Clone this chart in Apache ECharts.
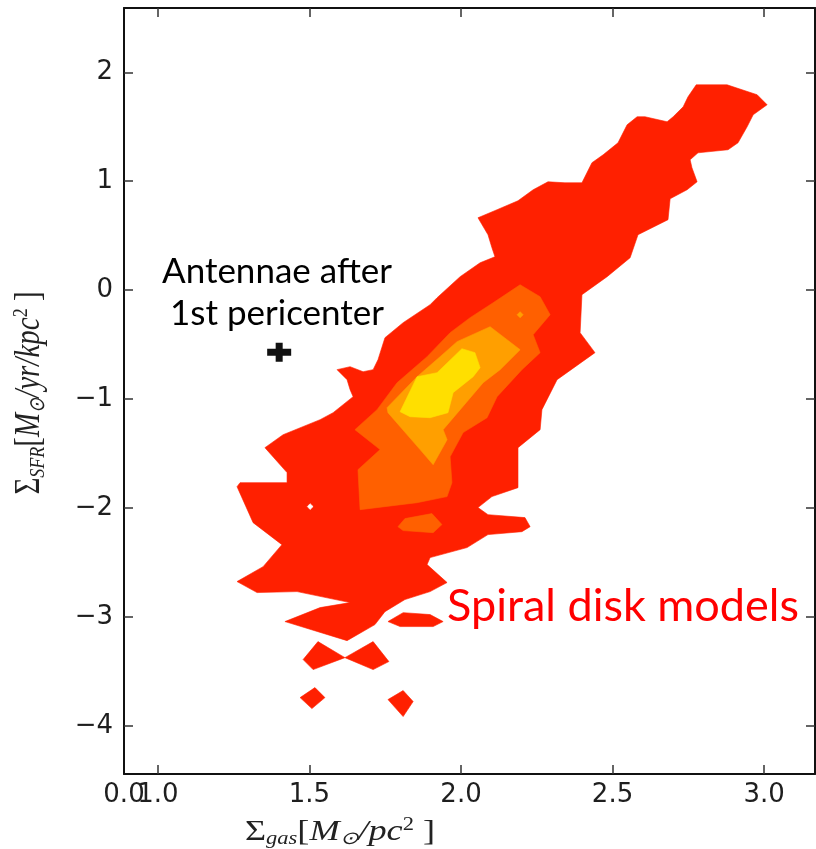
<!DOCTYPE html>
<html><head><meta charset="utf-8">
<script src="https://cdn.jsdelivr.net/npm/echarts@6/dist/echarts.min.js"></script>
<style>html,body{margin:0;padding:0;background:#fff}#c{width:816px;height:849px}</style>
</head><body><div id="c"></div>
<script>
// ---- axis ranges and ticks ----
const xRange = [0.888, 3.168];
const yRange = [-4.44, 2.59];
const xTicks = [1.0, 1.5, 2.0, 2.5, 3.0];
const yTicks = [-4, -3, -2, -1, 0, 1, 2];
const xEdgeLabel = '0.0';
const levelColors = ['#ff2000', '#ff6000', '#ff9f00', '#ffdf00'];

// ---- contour level 1 (lowest density, red) polygons [x, y] ----
const redMain = [[2.776,1.885],[2.878,1.885],[2.977,1.794],[3.010,1.702],[2.964,1.610],[2.944,1.500],[2.914,1.353],[2.881,1.289],[2.782,1.261],[2.756,1.197],[2.762,1.124],[2.779,0.995],[2.746,0.922],[2.690,0.839],[2.683,0.647],[2.584,0.509],[2.558,0.298],[2.482,0.124],[2.399,-0.041],[2.393,-0.390],[2.442,-0.573],[2.317,-0.821],[2.267,-1.096],[2.261,-1.280],[2.188,-1.445],[2.188,-1.812],[2.102,-1.894],[2.056,-1.995],[2.089,-2.060],[2.211,-2.087],[2.228,-2.170],[2.201,-2.216],[2.089,-2.243],[2.020,-2.362],[1.898,-2.454],[1.888,-2.518],[1.954,-2.683],[1.898,-2.766],[1.815,-2.839],[1.749,-2.950],[1.716,-3.069],[1.624,-3.216],[1.419,-3.041],[1.535,-2.913],[1.634,-2.867],[1.459,-2.766],[1.327,-2.775],[1.261,-2.674],[1.347,-2.537],[1.409,-2.335],[1.314,-2.133],[1.261,-1.803],[1.271,-1.766],[1.426,-1.766],[1.426,-1.674],[1.353,-1.445],[1.413,-1.326],[1.535,-1.188],[1.578,-1.124],[1.644,-0.977],[1.634,-0.913],[1.624,-0.821],[1.591,-0.729],[1.634,-0.702],[1.677,-0.748],[1.710,-0.729],[1.726,-0.638],[1.749,-0.436],[1.809,-0.298],[1.898,-0.133],[1.921,-0.069],[1.997,0.124],[2.063,0.252],[2.112,0.307],[2.102,0.390],[2.089,0.509],[2.056,0.665],[2.119,0.739],[2.188,0.821],[2.238,0.922],[2.287,0.995],[2.343,0.986],[2.399,0.986],[2.432,1.170],[2.469,1.243],[2.518,1.353],[2.548,1.518],[2.581,1.592],[2.607,1.592],[2.680,1.546],[2.700,1.592],[2.733,1.683],[2.749,1.775]];
const redBar = [[1.759,-3.041],[1.809,-2.959],[1.898,-2.977],[1.941,-3.041],[1.908,-3.087],[1.799,-3.087]];
const redBowLeft = [[1.479,-3.390],[1.528,-3.225],[1.617,-3.372],[1.512,-3.482]];
const redBowRight = [[1.617,-3.372],[1.710,-3.225],[1.762,-3.408],[1.710,-3.482]];
const redDotLeft = [[1.469,-3.739],[1.518,-3.647],[1.551,-3.739],[1.508,-3.840]];
const redDotRight = [[1.809,-3.674],[1.842,-3.775],[1.809,-3.913],[1.759,-3.757]];

// ---- level 2 (orange) ----
const orangeMain = [[2.195,0.050],[2.261,-0.060],[2.294,-0.225],[2.238,-0.408],[2.261,-0.573],[2.201,-0.729],[2.119,-0.977],[2.086,-1.170],[2.007,-1.307],[1.964,-1.528],[1.970,-1.766],[1.954,-1.894],[1.855,-1.950],[1.667,-2.014],[1.660,-1.647],[1.733,-1.463],[1.650,-1.280],[1.723,-1.096],[1.789,-0.849],[1.888,-0.610],[1.964,-0.390],[2.030,-0.252],[2.106,-0.115]];
const orangeIsland = [[1.792,-2.170],[1.815,-2.096],[1.904,-2.050],[1.937,-2.151],[1.908,-2.225],[1.809,-2.206]];

// ---- level 3 (amber) ----
const amberMain = [[2.096,-0.335],[2.195,-0.546],[2.129,-0.729],[2.073,-0.849],[1.941,-1.280],[1.954,-1.372],[1.908,-1.601],[1.865,-1.463],[1.759,-1.124],[1.756,-1.078],[1.855,-0.794],[1.931,-0.610],[1.987,-0.472]];
const amberDot = [[2.185,-0.225],[2.195,-0.197],[2.205,-0.225],[2.195,-0.253]];

// ---- level 4 (yellow, peak) ----
const yellowMain = [[2.003,-0.537],[2.046,-0.573],[2.063,-0.711],[2.040,-0.794],[1.974,-0.940],[1.957,-1.124],[1.898,-1.170],[1.832,-1.161],[1.799,-1.115],[1.855,-0.794],[1.921,-0.757]];

// ---- holes (empty bins) ----
const holeSpot = [[1.493,-1.986],[1.502,-1.959],[1.512,-1.986],[1.502,-2.013]];

// ---- Antennae point ----
const antennaePoint = [[1.40, -0.57]];

const levels = [
  {polys:[redMain, redBar, redBowLeft, redBowRight, redDotLeft, redDotRight], color: levelColors[0]},
  {polys:[orangeMain, orangeIsland], color: levelColors[1]},
  {polys:[amberMain, amberDot], color: levelColors[2]},
  {polys:[yellowMain], color: levelColors[3]},
  {polys:[holeSpot], color:'#ffffff'}
];

function polySeries(level){
  return {
    type:'custom', coordinateSystem:'cartesian2d', xAxisIndex:0, yAxisIndex:0, clip:true, silent:true,
    data: level.polys.map((p,i)=>[p[0][0], p[0][1], i]),
    renderItem: function(params, api){
      const poly = level.polys[api.value(2)];
      return {type:'polygon', shape:{points: poly.map(pt=>api.coord(pt))},
              style:{fill: level.color, stroke: level.color, lineWidth: 0.6}};
    }
  };
}

const tickFont = {fontFamily:'DejaVu Sans', fontSize:26, color:'#1e1e1e'};
const axisLineStyle = {color:'#111', width:2};
const tickStyle = {color:'#333', width:1.5};

const chart = echarts.init(document.getElementById('c'), null, {renderer:'canvas'});
chart.setOption({
  backgroundColor:'#ffffff',
  animation:false,
  grid:{left:124, right:1, top:8, bottom:75, containLabel:false, outerBoundsMode:'none'},
  xAxis:[
    {type:'value', position:'bottom', min:xRange[0], max:xRange[1],
     axisLine:{show:true, onZero:false, lineStyle:axisLineStyle},
     axisTick:{show:true, inside:true, length:9, customValues:xTicks, lineStyle:tickStyle},
     axisLabel:Object.assign({show:true, margin:8, customValues:xTicks,
       formatter: v => v.toFixed(1)}, tickFont),
     splitLine:{show:false}},
    {type:'value', position:'top', min:xRange[0], max:xRange[1],
     axisLine:{show:true, onZero:false, lineStyle:axisLineStyle},
     axisTick:{show:true, inside:true, length:9, customValues:xTicks, lineStyle:tickStyle},
     axisLabel:{show:false}, splitLine:{show:false}},
    {type:'value', position:'bottom', min:xRange[0], max:xRange[1],
     axisLine:{show:false, onZero:false}, axisTick:{show:false}, splitLine:{show:false},
     axisLabel:Object.assign({show:true, margin:8, showMinLabel:true, customValues:[xRange[0]],
       formatter: () => xEdgeLabel}, tickFont)}
  ],
  yAxis:[
    {type:'value', position:'left', min:yRange[0], max:yRange[1],
     axisLine:{show:true, onZero:false, lineStyle:axisLineStyle},
     axisTick:{show:true, inside:true, length:9, customValues:yTicks, lineStyle:tickStyle},
     axisLabel:Object.assign({show:true, margin:11, customValues:yTicks,
       formatter: v => (v < 0 ? '\u2212' + Math.abs(v) : String(v))}, tickFont),
     splitLine:{show:false}},
    {type:'value', position:'right', min:yRange[0], max:yRange[1],
     axisLine:{show:true, onZero:false, lineStyle:axisLineStyle},
     axisTick:{show:true, inside:true, length:9, customValues:yTicks, lineStyle:tickStyle},
     axisLabel:{show:false}, splitLine:{show:false}}
  ],
  series: levels.map(polySeries).concat([{
    type:'scatter', data: antennaePoint, silent:true, z:10, xAxisIndex:0, yAxisIndex:0,
    symbol:'path://M8.5,0H15.5V6H24V13H15.5V19H8.5V13H0V6H8.5Z', symbolSize:[24,19],
    itemStyle:{color:'#111111', opacity:1}
  }]),
  graphic:[
    {type:'text', x:277, y:272, style:{text:'Antennae after', font:'35px Lato', fill:'#000', align:'center', verticalAlign:'middle'}},
    {type:'text', x:277, y:314, style:{text:'1st pericenter', font:'35px Lato', fill:'#000', align:'center', verticalAlign:'middle'}},
    {type:'text', x:447, y:606, style:{text:'Spiral disk models', font:'45px Lato', fill:'#ff0000', align:'left', verticalAlign:'middle'}},
    {type:'text', x:245, y:832, scaleX:1.25,
     style:{text:'{s|Σ}{sub|gas}{b|[}{i|M}{sub|⊙}{i|/pc}{sup|2}{b| ]}', align:'left', verticalAlign:'middle',
       rich:{
         s:{fontFamily:'Liberation Serif', fontSize:29, lineHeight:32, verticalAlign:'middle', fill:'#222'},
         b:{fontFamily:'Liberation Serif', fontSize:29, lineHeight:32, verticalAlign:'middle', fill:'#222'},
         i:{fontFamily:'Liberation Serif', fontStyle:'italic', fontSize:29, lineHeight:32, verticalAlign:'middle', fill:'#222'},
         sub:{fontFamily:'Liberation Serif', fontStyle:'italic', fontSize:18, lineHeight:14, verticalAlign:'bottom', fill:'#222'},
         sup:{fontFamily:'Liberation Serif', fontSize:18, lineHeight:14, verticalAlign:'top', fill:'#222'}
       }}},
    {type:'text', x:30, y:393, rotation:Math.PI/2, scaleY:1.2,
     style:{text:'{s|Σ}{sub|SFR}{b|[}{i|M}{sub|⊙}{i|/yr/kpc}{sup|2}{b| ]}', align:'center', verticalAlign:'middle',
       rich:{
         s:{fontFamily:'Liberation Serif', fontSize:29, lineHeight:32, verticalAlign:'middle', fill:'#222'},
         b:{fontFamily:'Liberation Serif', fontSize:29, lineHeight:32, verticalAlign:'middle', fill:'#222'},
         i:{fontFamily:'Liberation Serif', fontStyle:'italic', fontSize:29, lineHeight:32, verticalAlign:'middle', fill:'#222'},
         sub:{fontFamily:'Liberation Serif', fontStyle:'italic', fontSize:18, lineHeight:14, verticalAlign:'bottom', fill:'#222'},
         sup:{fontFamily:'Liberation Serif', fontSize:18, lineHeight:14, verticalAlign:'top', fill:'#222'}
       }}}
  ]
});
</script></body></html>
